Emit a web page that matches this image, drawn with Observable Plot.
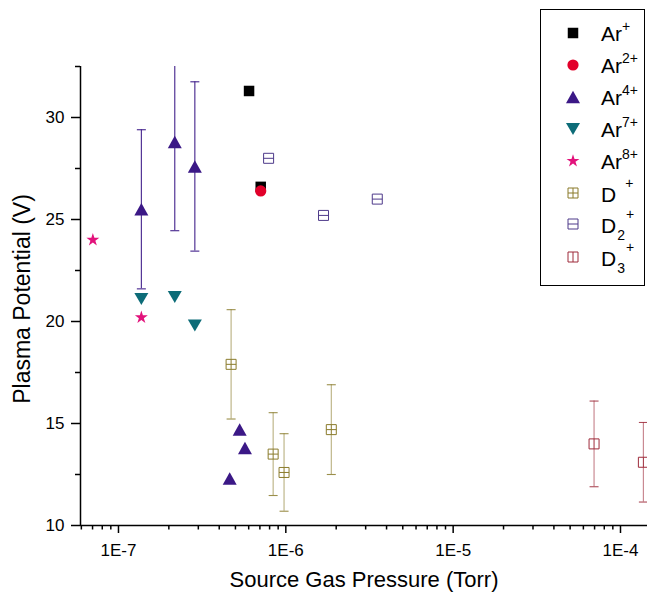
<!DOCTYPE html>
<html><head><meta charset="utf-8">
<script src="https://cdn.jsdelivr.net/npm/d3@7"></script>
<script src="https://cdn.jsdelivr.net/npm/@observablehq/plot@0.6"></script>
<style>
body{margin:0;background:#fff}
#wrap{position:relative;width:647px;height:593px;overflow:hidden}
#legend{position:absolute;left:0;top:0}
</style>
</head><body><div id="wrap"></div>
<script>
// ---- data (pressure in Torr, plasma potential in V, error in V) ----
const arPlusP = [6.03e-7, 7.08e-7];
const arPlusV = [31.3, 26.6];
const ar2P = [7.08e-7];
const ar2V = [26.4];
const ar4P = [1.37e-7, 2.17e-7, 2.86e-7, 4.62e-7, 5.3e-7, 5.7e-7];
const ar4V = [25.5, 28.8, 27.6, 12.3, 14.7, 13.8];
const ar4Err = [3.9, 4.35, 4.15, null, null, null];
const ar7P = [1.37e-7, 2.17e-7, 2.86e-7];
const ar7V = [21.1, 21.2, 19.8];
const ar8P = [7.03e-8, 1.37e-7];
const ar8V = [24.0, 20.2];
const dP = [4.71e-7, 8.4e-7, 9.76e-7, 1.87e-6];
const dV = [17.9, 13.5, 12.6, 14.7];
const dErr = [2.68, 2.03, 1.9, 2.2];
const d2P = [7.89e-7, 1.68e-6, 3.52e-6];
const d2V = [28.0, 25.2, 26.0];
const d3P = [6.95e-5, 1.37e-4];
const d3V = [14.0, 13.1];
const d3Err = [2.1, 1.95];

const xDomain = [5.93e-8, 1.45e-4];
const yDomain = [10, 32.5];
const xMajor = [1e-7, 1e-6, 1e-5, 1e-4];
const yMajor = [10, 15, 20, 25, 30];
const yMinor = [12.5, 17.5, 22.5, 27.5, 32.5];
const legendNames = ["Ar+", "Ar2+", "Ar4+", "Ar7+", "Ar8+", "D+", "D2+", "D3+"];

// ---- helpers ----
const rows = (P, V, E) => P.map((p, i) => ({p, v: V[i], e: E ? E[i] : null}));
const errRows = (P, V, E) => rows(P, V, E).filter(d => d.e != null)
  .map(d => ({p: d.p, lo: d.v - d.e, hi: d.v + d.e}));
const xMinor = [];
for (let e = -8; e <= -4; e++) for (let k = 2; k <= 9; k++) {
  const t = k * Math.pow(10, e);
  if (t >= xDomain[0] && t <= xDomain[1]) xMinor.push(t);
}

// ---- symbols ----
const sq = s => ({draw(c){const h=s/2;c.moveTo(-h,-h);c.lineTo(h,-h);c.lineTo(h,h);c.lineTo(-h,h);c.closePath();}});
const circ = r => ({draw(c){c.moveTo(r,0);c.arc(0,0,r,0,2*Math.PI);c.closePath();}});
const triUp = (w,h) => ({draw(c){c.moveTo(0,-h/2);c.lineTo(w/2,h/2);c.lineTo(-w/2,h/2);c.closePath();}});
const triDown = (w,h) => ({draw(c){c.moveTo(0,h/2);c.lineTo(w/2,-h/2);c.lineTo(-w/2,-h/2);c.closePath();}});
const star = R => ({draw(c){d3.symbolStar.draw(c, R*R/0.8908130915292852);}});
const dSym = (s, hz, vt) => ({draw(c){const h=s/2;c.moveTo(-h,-h);c.lineTo(h,-h);c.lineTo(h,h);c.lineTo(-h,h);c.closePath();
  if(hz){c.moveTo(-h,0);c.lineTo(h,0);} if(vt){c.moveTo(0,-h);c.lineTo(0,h);}}});
const cap = w => ({draw(c){c.moveTo(-w/2,0);c.lineTo(w/2,0);}});

const C = {
  ar1: "#000000", ar2: "#e2002a", ar4: "#3b1886", ar7: "#0d6c78", ar8: "#e2127b",
  d1: "#8a7b2b", d2: "#4e3a8a", d3: "#9e2b3b"
};
const S = {
  ar1: sq(10.5), ar2: circ(5.6), ar4: triUp(14, 12.5), ar7: triDown(14, 12), ar8: star(6.8),
  d1: dSym(10, true, true), d2: dSym(10, true, false), d3: dSym(10, false, true)
};

function errMarks(data, color, opts) {
  return [
    Plot.ruleX(data, {x: "p", y1: "lo", y2: "hi", stroke: color, strokeWidth: 1.1, strokeOpacity: opts.line, clip: true}),
    Plot.dot(data, {x: "p", y: "lo", symbol: cap(9), r: 3, stroke: color, strokeWidth: 1.1, strokeOpacity: opts.cap, fill: "none", clip: true}),
    Plot.dot(data, {x: "p", y: "hi", symbol: cap(9), r: 3, stroke: color, strokeWidth: 1.1, strokeOpacity: opts.cap, fill: "none", clip: true})
  ];
}
const filled = (data, key) => Plot.dot(data, {x: "p", y: "v", symbol: S[key], r: 5, fill: C[key], stroke: "none"});
const open = (data, key) => Plot.dot(data, {x: "p", y: "v", symbol: S[key], r: 5, fill: "white", stroke: C[key], strokeWidth: 1, clip: true});

const plot = Plot.plot({
  width: 647, height: 593,
  marginLeft: 80, marginRight: 0, marginTop: 66, marginBottom: 68,
  x: {type: "log", domain: xDomain},
  y: {domain: yDomain},
  style: {fontFamily: "'Liberation Sans', Arial, sans-serif", fontSize: "17px", color: "black", background: "white"},
  marks: [
    Plot.axisX(xMinor, {tickSize: 4.5, strokeWidth: 1.5, tickFormat: () => "", label: null}),
    Plot.axisX(xMajor, {tickSize: 8, tickPadding: 10, strokeWidth: 1.5, tickFormat: d => "1E" + Math.round(Math.log10(d)), label: null}),
    Plot.axisY(yMinor, {tickSize: 5, strokeWidth: 1.5, tickFormat: () => "", label: null}),
    Plot.axisY(yMajor, {tickSize: 9, tickPadding: 7, strokeWidth: 1.5, label: null}),
    Plot.ruleY([yDomain[0]], {stroke: "black", strokeWidth: 1.5}),
    Plot.ruleX([xDomain[0]], {stroke: "black", strokeWidth: 1.5}),
    ...errMarks(errRows(ar4P, ar4V, ar4Err), "#43228c", {line: 1, cap: 1}),
    ...errMarks(errRows(dP, dV, dErr), C.d1, {line: 0.6, cap: 0.85}),
    ...errMarks(errRows(d3P, d3V, d3Err), C.d3, {line: 0.6, cap: 0.85}),
    filled(rows(arPlusP, arPlusV), "ar1"),
    filled(rows(ar2P, ar2V), "ar2"),
    filled(rows(ar4P, ar4V), "ar4"),
    filled(rows(ar7P, ar7V), "ar7"),
    filled(rows(ar8P, ar8V), "ar8"),
    open(rows(dP, dV), "d1"),
    open(rows(d2P, d2V), "d2"),
    open(rows(d3P, d3V), "d3")
  ]
});

const svg = d3.select(plot);
svg.append("text").attr("transform", "translate(30,299) rotate(-90)").attr("text-anchor", "middle")
  .attr("font-size", 23).attr("fill", "black").text("Plasma Potential (V)");
svg.append("text").attr("x", 364).attr("y", 587).attr("text-anchor", "middle")
  .attr("font-size", 22).attr("fill", "black").text("Source Gas Pressure (Torr)");

const wrap = document.getElementById("wrap");
wrap.appendChild(plot);

// ---- legend overlay ----
const lg = d3.select(wrap).append("svg").attr("id", "legend").attr("width", 647).attr("height", 593)
  .style("font-family", "'Liberation Sans', Arial, sans-serif");
lg.append("rect").attr("x", 540.5).attr("y", 9.5).attr("width", 104).attr("height", 276)
  .attr("fill", "white").attr("stroke", "black").attr("stroke-width", 1);
const keys = ["ar1", "ar2", "ar4", "ar7", "ar8", "d1", "d2", "d3"];
const rowY = [33, 65, 97, 129, 161, 193, 224, 257];
keys.forEach((k, i) => {
  const isOpen = k.startsWith("d");
  lg.append("path").attr("d", d3.symbol(S[k])()).attr("transform", `translate(573,${rowY[i]})`)
    .attr("fill", isOpen ? "white" : C[k]).attr("stroke", isOpen ? C[k] : "none").attr("stroke-width", 1);
  const name = legendNames[i];
  const m = name.match(/^([A-Za-z]+)(\d?)(\+)$/);
  const base = m[1], num = m[2];
  const t = lg.append("text").attr("x", 601).attr("font-size", 21).attr("fill", "black");
  if (base === "Ar") {
    t.attr("y", rowY[i] + 8);
    t.append("tspan").text(base);
    t.append("tspan").attr("dy", -10).attr("font-size", 14).text(num + "+");
  } else {
    t.attr("y", rowY[i] + 8.5);
    t.append("tspan").text(base);
    if (num) {
      t.append("tspan").attr("dy", 7).attr("dx", 1).attr("font-size", 14).text(num);
      t.append("tspan").attr("dy", -21).attr("dx", 1).attr("font-size", 14).text("+");
    } else {
      t.append("tspan").attr("dy", -14).attr("dx", 9).attr("font-size", 14).text("+");
    }
  }
});
</script>
</body></html>
